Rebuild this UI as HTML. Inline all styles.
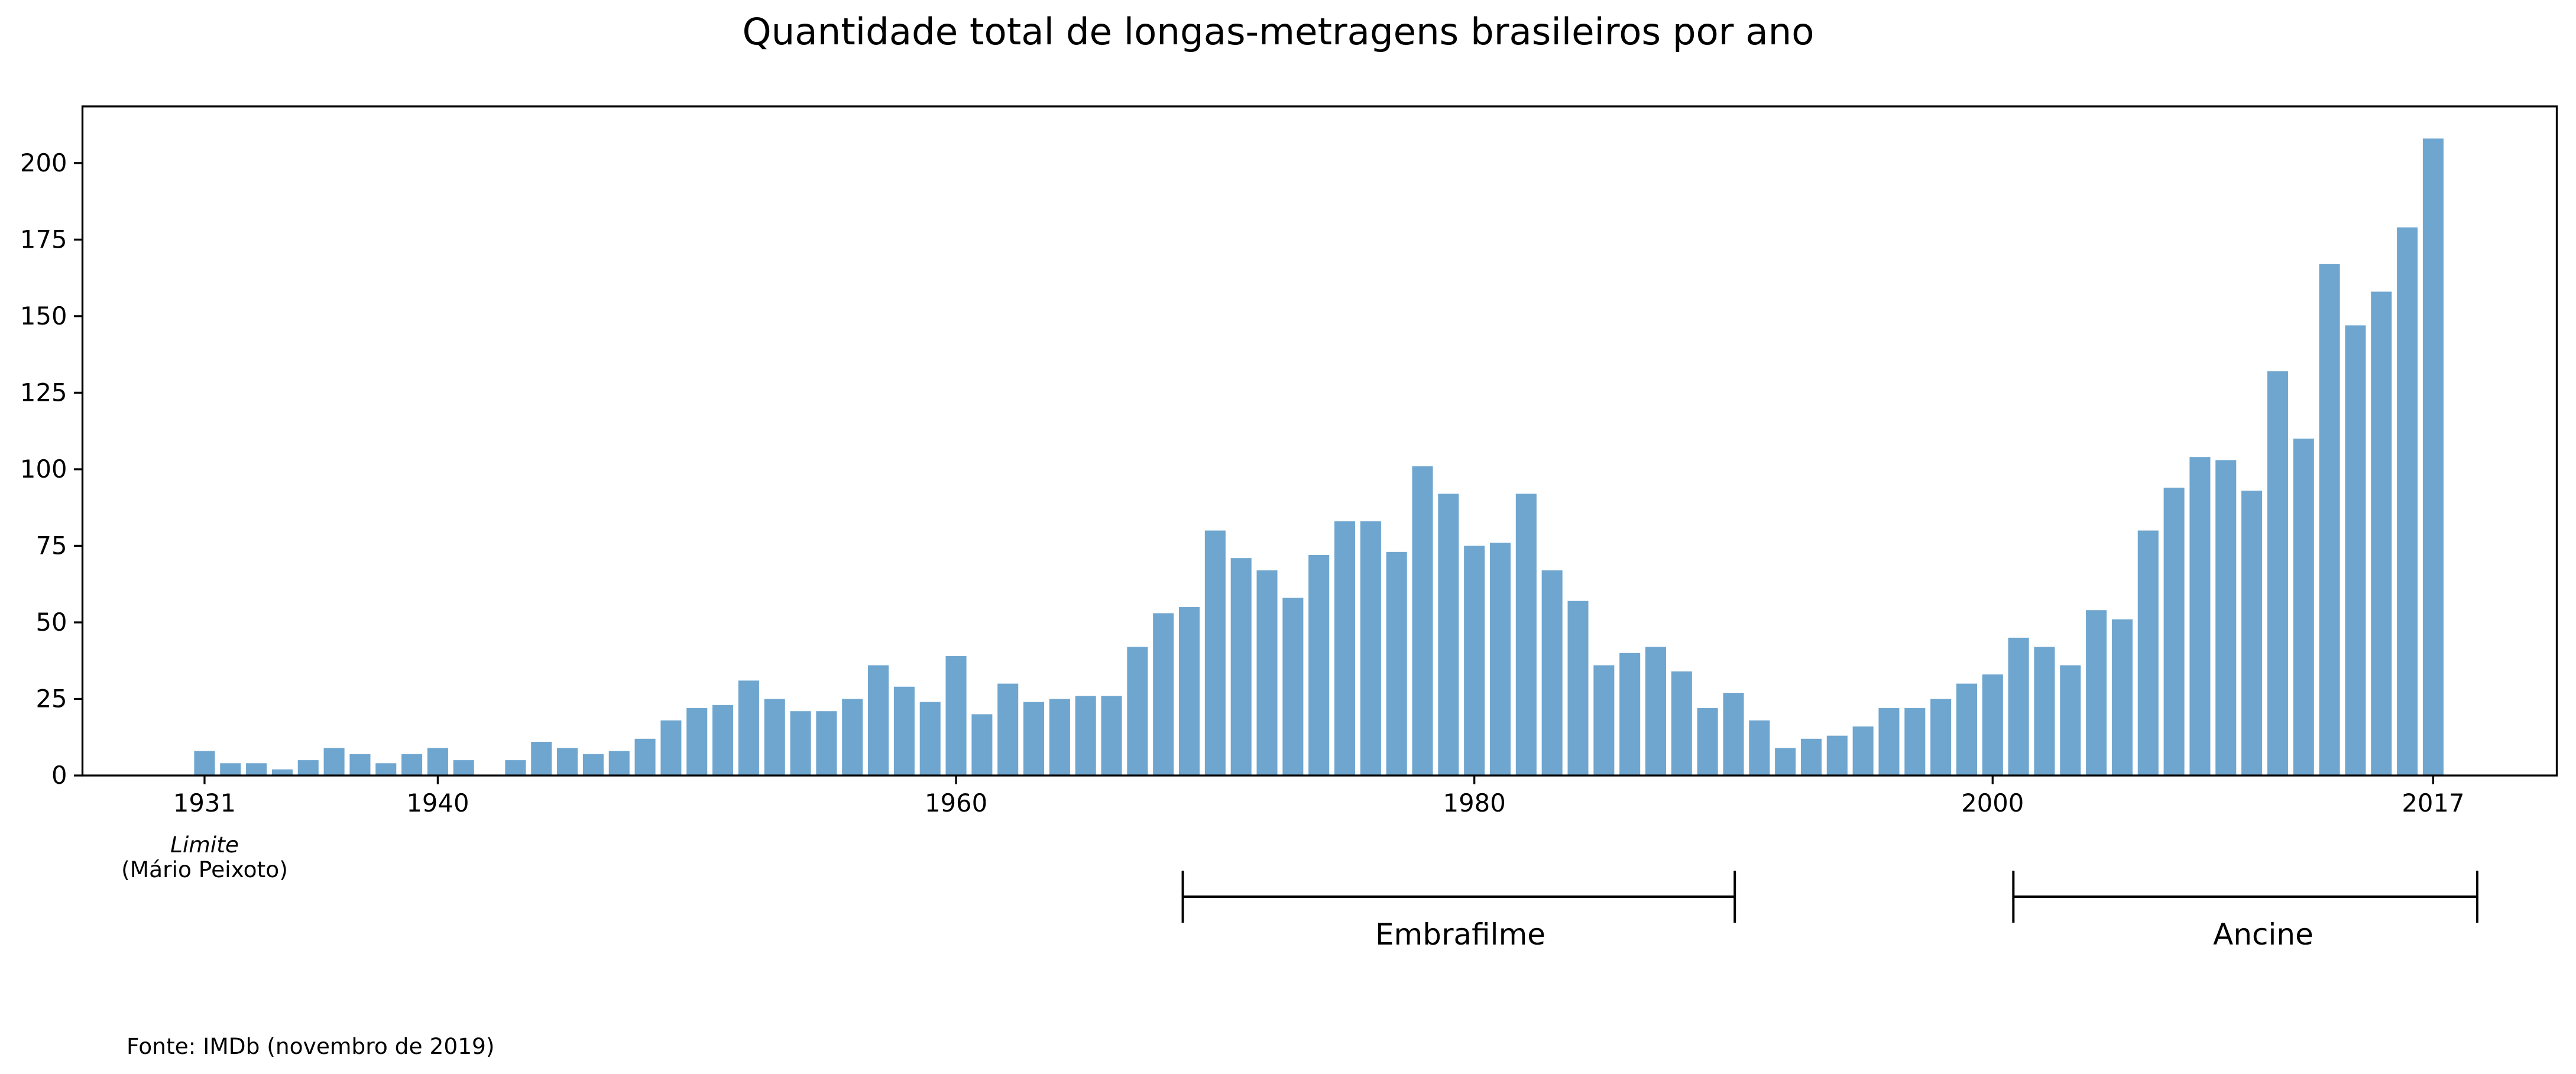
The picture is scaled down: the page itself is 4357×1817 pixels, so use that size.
<!DOCTYPE html>
<html><head><meta charset="utf-8"><style>
html,body{margin:0;padding:0;background:#fff}
svg{display:block}
text{font-family:"DejaVu Sans","Liberation Sans",sans-serif;fill:#000}
</style></head><body>
<svg id="chart" width="4357" height="1817" viewBox="0 0 4357 1817" xmlns="http://www.w3.org/2000/svg">
<text x="2162" y="75" font-size="62.5" text-anchor="middle">Quantidade total de longas-metragens brasileiros por ano</text>
<g id="bars"></g>
<g id="axes"></g>
<text x="346" y="1442" font-size="37.5" font-style="italic" text-anchor="middle">Limite</text>
<text x="346" y="1484" font-size="37.5" text-anchor="middle">(Mário Peixoto)</text>
<g id="brackets"></g>
<text x="214" y="1783" font-size="37.5">Fonte: IMDb (novembro de 2019)</text>
</svg>
<script>
const years = [];
for (let y = 1931; y <= 2017; y++) years.push(y);
const counts = [8,4,4,2,5,9,7,4,7,9,5,0,5,11,9,7,8,12,18,22,23,31,25,21,21,25,36,29,24,39,20,30,24,25,26,26,42,53,55,80,71,67,58,72,83,83,73,101,92,75,76,92,67,57,36,40,42,34,22,27,18,9,12,13,16,22,22,25,30,33,45,42,36,54,51,80,94,104,103,93,132,110,167,147,158,179,208];
const yTicks = [0,25,50,75,100,125,150,175,200];
const xTicks = [1931,1940,1960,1980,2000,2017];
const periodNames = ["Embrafilme","Ancine"];
const periodStart = [1968.75,2000.8];
const periodEnd = [1990.05,2018.7];
const labelCenters = [2470,3828];

const NS = "http://www.w3.org/2000/svg";
const L=139.5,R=4324.5,T=180,B=1312;
const xMin=1926.29,xMax=2021.77,yMax=218.5;
const xs = v => L + (v - xMin) / (xMax - xMin) * (R - L);
const ys = v => B - v / yMax * (B - T);
function mk(tag, attrs, parent){const e=document.createElementNS(NS,tag);for(const k in attrs)e.setAttribute(k,attrs[k]);parent.appendChild(e);return e;}
const bars=document.getElementById('bars'),axes=document.getElementById('axes'),br=document.getElementById('brackets');
const bw = 0.8*(xs(1)-xs(0));
years.forEach((yr,i)=>{
  const r=mk('rect',{x:xs(yr)-bw/2,y:ys(counts[i]),width:bw,height:ys(0)-ys(counts[i]),fill:'#6fa6cf'},bars);
  
  
});
const frame=mk('rect',{x:L,y:T,width:R-L,height:B-T,fill:'none',stroke:'#000','stroke-width':3.3},axes);


yTicks.forEach(v=>{
  const l=mk('line',{x1:L-14.6,x2:L,y1:ys(v),y2:ys(v),stroke:'#000','stroke-width':3.3},axes);
  
  
  const t=mk('text',{x:L-26,y:ys(v)+14,'font-size':41.7,'text-anchor':'end'},axes);
  t.textContent=v;
  
  
});
xTicks.forEach(v=>{
  const l=mk('line',{x1:xs(v),x2:xs(v),y1:B,y2:B+14.6,stroke:'#000','stroke-width':3.3},axes);
  
  
  const t=mk('text',{x:xs(v),y:B+61,'font-size':41.7,'text-anchor':'middle'},axes);
  t.textContent=v;
  
  
});
periodNames.forEach((n,i)=>{
  const a=xs(periodStart[i]),b=xs(periodEnd[i]);
  const g=mk('g',{},br);
  
  
  mk('line',{x1:a,x2:b,y1:1517,y2:1517,stroke:'#000','stroke-width':4},g);
  mk('line',{x1:a,x2:a,y1:1473,y2:1561,stroke:'#000','stroke-width':4},g);
  mk('line',{x1:b,x2:b,y1:1473,y2:1561,stroke:'#000','stroke-width':4},g);
  const t=mk('text',{x:labelCenters[i],y:1598,'font-size':50,'text-anchor':'middle'},g);
  t.textContent=n;
  
  
});
</script>
</body></html>
